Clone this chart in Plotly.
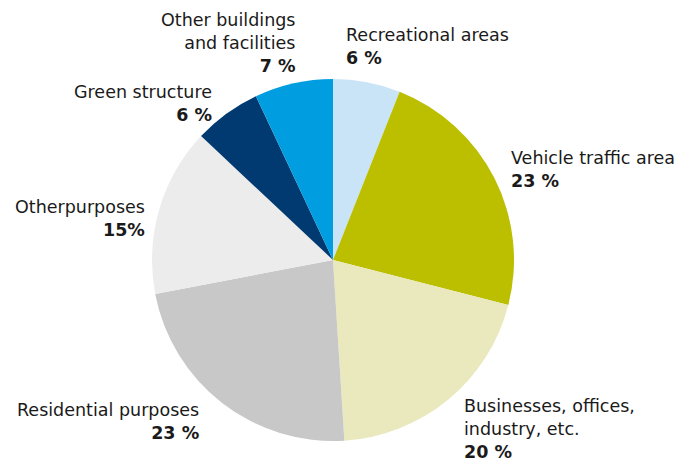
import plotly.graph_objects as go

# land use shares, clockwise from 12 o'clock
categories = ["Recreational areas", "Vehicle traffic area", "Businesses, offices,<br>industry, etc.",
              "Residential purposes", "Otherpurposes", "Green structure",
              "Other buildings<br>and facilities"]
values = [6, 23, 20, 23, 15, 6, 7]
pct_labels = ["6 %", "23 %", "20 %", "23 %", "15%", "6 %", "7 %"]
colors = ["#c9e4f7", "#bcbe00", "#e9e9bd", "#c8c8c8", "#ececec", "#003a70", "#009ee0"]

fig = go.Figure(go.Pie(
    labels=categories,
    values=values,
    sort=False,
    direction="clockwise",
    rotation=0,
    marker=dict(colors=colors, line=dict(width=0)),
    textinfo="none",
    hoverinfo="label+percent",
    domain=dict(x=[152 / 684, 514 / 684], y=[21 / 462, 383 / 462]),
    showlegend=False,
))

# label placement (x, y in paper units, anchor side)
label_pos = [
    (344 / 684, 1 - 46.5 / 462, "left"),
    (509 / 684, 1 - 169 / 462, "left"),
    (462 / 684, 1 - 429 / 462, "left"),
    (201 / 684, 1 - 421.5 / 462, "right"),
    (147 / 684, 1 - 218.5 / 462, "right"),
    (214 / 684, 1 - 103 / 462, "right"),
    (297 / 684, 1 - 43.5 / 462, "right"),
]
for cat, pct, (x, y, side) in zip(categories, pct_labels, label_pos):
    fig.add_annotation(
        text=f"{cat}<br><b>{pct}</b>",
        x=x, y=y, xref="paper", yref="paper",
        xanchor=side, yanchor="middle", align=side,
        showarrow=False,
        font=dict(size=17.5, color="#1a1a1a"),
    )

fig.update_layout(
    width=684, height=462,
    margin=dict(l=0, r=0, t=0, b=0),
    paper_bgcolor="white",
    plot_bgcolor="white",
    font=dict(family="DejaVu Sans, sans-serif"),
)

fig.write_html("out.html", config={"displayModeBar": False},
               post_script="document.body.style.margin='0';")
